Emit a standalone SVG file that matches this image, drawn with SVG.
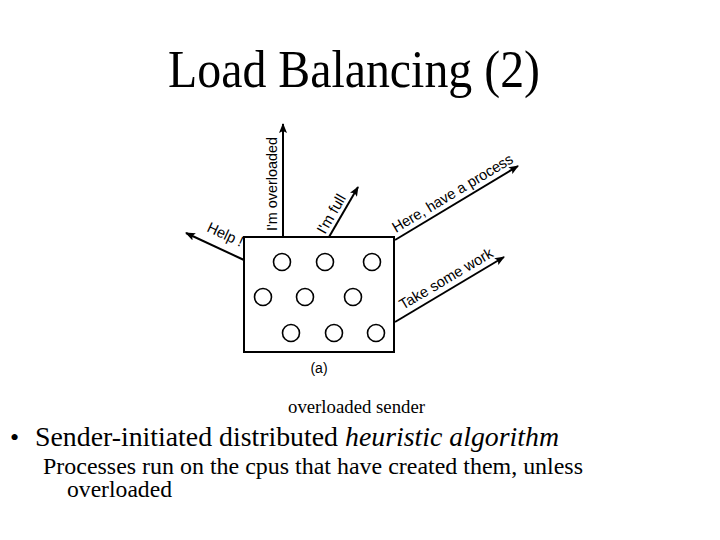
<svg xmlns="http://www.w3.org/2000/svg" width="720" height="540" viewBox="0 0 720 540">
<style>
.t{font-family:"Liberation Serif","Times New Roman",serif;fill:#000}
.s{font-family:"Liberation Sans",Arial,sans-serif;fill:#000;font-size:15px}
.ln{stroke:#000;stroke-width:2;fill:none}
.c{stroke:#000;stroke-width:1.6;fill:#fff}
</style>
<defs>
<marker id="ah" markerWidth="10" markerHeight="8" refX="9" refY="4" orient="auto" markerUnits="userSpaceOnUse">
<path d="M0,0 L10,4 L0,8 L2,4 Z" fill="#000"/>
</marker>
</defs>
<rect width="720" height="540" fill="#fff"/>
<text class="t" x="168" y="87" font-size="52" textLength="372" lengthAdjust="spacingAndGlyphs">Load Balancing (2)</text>
<g id="connectors">
<line class="ln" x1="283" y1="237" x2="283" y2="124" marker-end="url(#ah)"/>
<line class="ln" x1="329" y1="237" x2="358" y2="187" marker-end="url(#ah)"/>
<line class="ln" x1="244" y1="260" x2="186" y2="233" marker-end="url(#ah)"/>
<line class="ln" x1="395" y1="240" x2="518" y2="166" marker-end="url(#ah)"/>
<line class="ln" x1="395" y1="322" x2="504" y2="257" marker-end="url(#ah)"/>
</g>
<g id="labels">
<text class="s" transform="translate(277,231) rotate(-90)" textLength="94" lengthAdjust="spacingAndGlyphs">I'm overloaded</text>
<text class="s" transform="translate(325,235) rotate(-60)">I'm full</text>
<text class="s" transform="translate(206,231) rotate(25)" textLength="38" lengthAdjust="spacingAndGlyphs">Help !</text>
<text class="s" transform="translate(396,233) rotate(-31)" textLength="138" lengthAdjust="spacingAndGlyphs">Here, have a process</text>
<text class="s" transform="translate(403,310) rotate(-30.6)" textLength="106" lengthAdjust="spacingAndGlyphs">Take some work</text>
</g>
<g id="cpu">
<rect x="244" y="237" width="150" height="115" fill="#fff" stroke="#000" stroke-width="2"/>
<circle class="c" cx="282" cy="262" r="8.5"/>
<circle class="c" cx="325" cy="262" r="8.5"/>
<circle class="c" cx="372" cy="262" r="8.5"/>
<circle class="c" cx="263" cy="297" r="8.5"/>
<circle class="c" cx="305" cy="297" r="8.5"/>
<circle class="c" cx="353" cy="297" r="8.5"/>
<circle class="c" cx="291" cy="333" r="8.5"/>
<circle class="c" cx="334" cy="333" r="8.5"/>
<circle class="c" cx="376" cy="333" r="8.5"/>
</g>
<text class="s" x="319" y="373" text-anchor="middle" style="font-size:14px">(a)</text>
<text class="t" x="288" y="413" font-size="18" textLength="137" lengthAdjust="spacingAndGlyphs">overloaded sender</text>
<text class="t" x="10" y="446" font-size="26">•</text>
<text class="t" x="35" y="446" font-size="28" textLength="524" lengthAdjust="spacingAndGlyphs">Sender-initiated distributed <tspan font-style="italic">heuristic algorithm</tspan></text>
<text class="t" x="43" y="474" font-size="23" textLength="540" lengthAdjust="spacingAndGlyphs">Processes run on the cpus that have created them, unless</text>
<text class="t" x="67" y="497" font-size="23" textLength="105" lengthAdjust="spacingAndGlyphs">overloaded</text>
</svg>
